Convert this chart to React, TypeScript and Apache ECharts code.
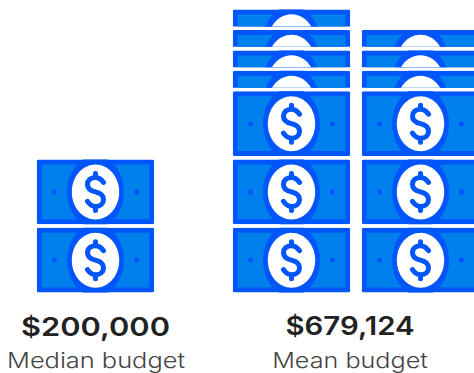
import React, { useEffect, useRef } from "react";
import * as echarts from "echarts";

// Headline figures and their captions
const medianValueLabel = "$200,000";
const medianCaption = "Median budget";
const meanValueLabel = "$679,124";
const meanCaption = "Mean budget";

// Bill stacks: full bills at the foot of each column, peeking bills above them
const medianColumns = ["Median budget"];
const medianFullBills = [2];
const medianPeekBills = [0];
const meanColumns = ["Mean budget A", "Mean budget B"];
const meanFullBills = [3, 3];
const meanPeekBills = [4, 3];

const PEEK_STEP = 0.3; // stack height of a peeking bill, in bills
const FULL_GAP = 0.052; // space kept between bills, in bills
const STACK_TOP = 4.14;

const DARK = "#0055fb";
const MID = "#0080ec";
const DOLLAR =
  "M8,-9.5 C6,-12.5 3.5,-14.5 0,-14.5 C-5,-14.5 -8,-11.5 -8,-7.5 C-8,-2.5 -4,-1 0,0 C4,1 8,2.5 8,7.5 C8,11.5 5,14.5 0,14.5 C-3.5,14.5 -6,12.5 -8,9.5 M0,-14.5 L0,-18.5 M0,14.5 L0,18.5";

function stackItems(full: number[], peek: number[]) {
  const items: number[][] = [];
  full.forEach((count, column) => {
    for (let i = 0; i < count; i++) items.push([column, i, 1]);
    for (let i = 0; i < peek[column]; i++) items.push([column, count + i * PEEK_STEP, PEEK_STEP]);
  });
  return items;
}

function renderBill(_: unknown, api: any) {
  const base = api.coord([api.value(0), api.value(1)]);
  const span = api.value(2);
  const unit = api.size([0, 1])[1];
  const w = 117.5;
  const fullH = unit * (1 - FULL_GAP);
  const h = unit * (span - FULL_GAP);
  const cx = w / 2;
  const cy = fullH / 2;
  const children: any[] = [
    { type: "rect", shape: { x: 0, y: 0, width: w, height: fullH, r: 2 }, style: { fill: DARK } },
    { type: "rect", shape: { x: 5, y: 5, width: w - 10, height: fullH - 10 }, style: { fill: MID } },
    { type: "ellipse", shape: { cx, cy, rx: 28.5, ry: 36 }, style: { fill: DARK } },
    { type: "ellipse", shape: { cx, cy, rx: 23.7, ry: 27.5 }, style: { fill: "#ffffff" } },
  ];
  // The sign and serial dots sit below the visible strip of a peeking bill
  if (span === 1) {
    children.push(
      { type: "circle", shape: { cx: cx - 41, cy, r: 2.6 }, style: { fill: DARK } },
      { type: "circle", shape: { cx: cx + 41, cy, r: 2.6 }, style: { fill: DARK } },
      {
        type: "path",
        x: cx,
        y: cy,
        shape: { pathData: DOLLAR },
        style: { fill: "none", stroke: DARK, lineWidth: 5, lineCap: "round", lineJoin: "round" },
      },
    );
  }
  return {
    type: "group",
    x: base[0] - w / 2,
    y: base[1] - h,
    clipPath: { type: "rect", shape: { x: 0, y: 0, width: w, height: h } },
    children,
  };
}

function caption(
  text: string,
  x: number,
  y: number,
  size: number,
  weight: number,
  fill: string,
  stretch: number,
) {
  return {
    type: "text",
    x,
    y,
    scaleX: stretch,
    style: {
      text,
      fill,
      font: `${weight} ${size}px Inter, "Noto Sans", sans-serif`,
      textAlign: "center",
      textVerticalAlign: "middle",
    },
  };
}

export default function App() {
  const ref = useRef<HTMLDivElement>(null);

  useEffect(() => {
    document.body.style.margin = "0";
    const chart = echarts.init(ref.current!, undefined, { renderer: "svg" });
    const hiddenY = { type: "value" as const, min: 0, max: STACK_TOP, show: false };
    const hiddenX = (data: string[], gridIndex: number) => ({
      type: "category" as const,
      data,
      gridIndex,
      show: false,
    });
    chart.setOption({
      animation: false,
      grid: [
        { left: 31, width: 129, top: 10, bottom: 80.5 },
        { left: 227, width: 258, top: 10, bottom: 80.5 },
      ],
      xAxis: [hiddenX(medianColumns, 0), hiddenX(meanColumns, 1)],
      yAxis: [
        { ...hiddenY, gridIndex: 0 },
        { ...hiddenY, gridIndex: 1 },
      ],
      series: [
        {
          type: "custom",
          xAxisIndex: 0,
          yAxisIndex: 0,
          renderItem: renderBill,
          data: stackItems(medianFullBills, medianPeekBills),
        },
        {
          type: "custom",
          xAxisIndex: 1,
          yAxisIndex: 1,
          renderItem: renderBill,
          data: stackItems(meanFullBills, meanPeekBills),
        },
      ],
      graphic: [
        caption(medianValueLabel, 95.5, 326, 26, 600, "#222222", 1.185),
        caption(medianCaption, 96, 360, 22, 300, "#444444", 1.155),
        caption(meanValueLabel, 350, 326, 26, 600, "#222222", 1.13),
        caption(meanCaption, 350, 360, 22, 300, "#444444", 1.145),
      ],
    });
    return () => chart.dispose();
  }, []);

  return (
    <div style={{ width: 474, height: 373, overflow: "hidden" }}>
      <div ref={ref} style={{ width: 500, height: 373 }} />
    </div>
  );
}
